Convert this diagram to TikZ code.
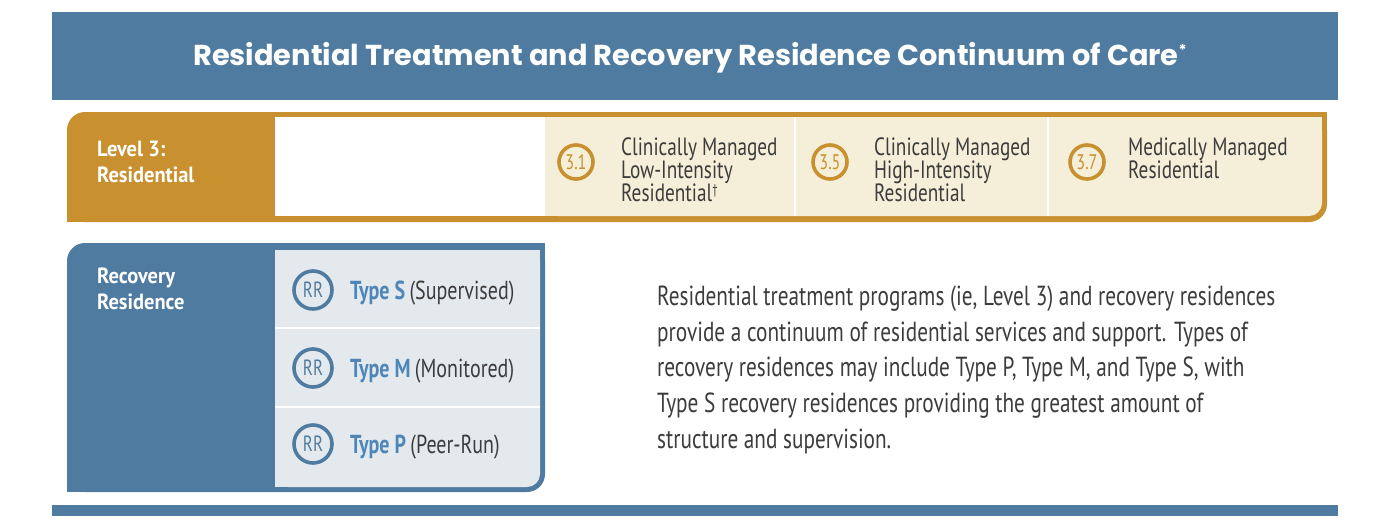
\documentclass[tikz,border=0pt]{standalone}
\usepackage{fontspec}
\setmainfont{PT Sans}[FakeStretch=0.77]
\newfontfamily\lblfont{PT Sans}[FakeStretch=0.93]
\newfontfamily\titlefont{Poppins}
\definecolor{hdrblue}{HTML}{4F7BA0}
\definecolor{gold}{HTML}{C8902F}
\definecolor{cream}{HTML}{F5EED8}
\definecolor{paleblue}{HTML}{E4E9EE}
\definecolor{txtgray}{HTML}{3C3C3C}
\definecolor{typeblue}{HTML}{4E86B8}
\lineskiplimit=-50pt
\tikzset{
  lbl/.style={anchor=base west, inner sep=0pt, text=white, font=\lblfont\fontsize{22}{26.5}\selectfont\bfseries, align=left},
  cell/.style={anchor=base west, inner sep=0pt, text=txtgray, font=\fontsize{25}{23}\selectfont, align=left},
  goldring/.style={circle, draw=gold, line width=3.6pt, minimum size=34pt, inner sep=0pt, text=gold, font=\fontsize{21}{21}\selectfont},
  bluering/.style={circle, draw=hdrblue, line width=3.6pt, minimum size=38pt, inner sep=0pt, text=hdrblue, font=\fontsize{22}{22}\selectfont},
  rrtext/.style={anchor=base west, inner sep=0pt, font=\fontsize{26}{26}\selectfont},
  sepline/.style={white, line width=2pt}
}
\begin{document}
\begin{tikzpicture}[x=1pt,y=-1pt]
\useasboundingbox (0,0) rectangle (1382,523);
\fill[white] (0,0) rectangle (1382,523);
% header
\fill[hdrblue] (52,12) rectangle (1338,100);
\node[text=white, inner sep=0pt, anchor=base, font=\titlefont\bfseries\fontsize{28.8}{28.8}\selectfont] (title) at (690,65)
  {Residential Treatment and Recovery Residence Continuum of Care\raisebox{10pt}{\fontsize{15}{15}\selectfont*}};
% Level 3 band
\fill[gold, rounded corners=18pt] (67,112) rectangle (1327,222);
\fill[gold] (1290,112) rectangle (1327,150);
\fill[gold] (67,190) rectangle (110,222);
\fill[white] (275,117) rectangle (545,216);
\fill[cream, rounded corners=13pt] (545,117) rectangle (1322,216);
\fill[cream] (545,117) rectangle (1300,216);
\fill[cream] (1280,117) rectangle (1322,160);
\draw[sepline] (795,117) -- (795,216);
\draw[sepline] (1048,117) -- (1048,216);
\node[lbl] (lvl) at (97,182.5) {Level 3:\\Residential};
\node[goldring] (c31) at (576,162) {3.1};
\node[cell] (t31) at (621,201) {Clinically Managed\\Low-Intensity\\Residential\raisebox{7pt}{\fontsize{14}{14}\selectfont\textdagger}};
\node[goldring] (c35) at (830,162) {3.5};
\node[cell] (t35) at (874,201) {Clinically Managed\\High-Intensity\\Residential};
\node[goldring] (c37) at (1087,162) {3.7};
\node[cell] (t37) at (1128,178) {Medically Managed\\Residential};
% Recovery residence box
\fill[hdrblue, rounded corners=18pt] (67,243) rectangle (545,492);
\fill[hdrblue] (500,243) rectangle (545,280);
\fill[hdrblue] (67,450) rectangle (110,492);
\fill[paleblue, rounded corners=13pt] (275,250) rectangle (540,487);
\fill[paleblue] (275,250) rectangle (520,487);
\fill[paleblue] (500,250) rectangle (540,460);
\draw[sepline] (275,328) -- (540,328);
\draw[sepline] (275,407) -- (540,407);
\node[lbl] (rr) at (97,309.5) {Recovery\\Residence};
\node[bluering] (r1) at (313,290) {RR};
\node[rrtext] (s1) at (350,299) {\textcolor{typeblue}{\bfseries Type S}\,\textcolor{txtgray}{(Supervised)}};
\node[bluering] (r2) at (313,368) {RR};
\node[rrtext] (s2) at (350,377) {\textcolor{typeblue}{\bfseries Type M}\,\textcolor{txtgray}{(Monitored)}};
\node[bluering] (r3) at (313,444) {RR};
\node[rrtext] (s3) at (350,453) {\textcolor{typeblue}{\bfseries Type P}\,\textcolor{txtgray}{(Peer-Run)}};
% paragraph
\node[anchor=base west, inner sep=0pt, align=left, text=txtgray, font=\fontsize{27.6}{35.8}\selectfont] (para) at (657,448.5)
  {Residential treatment programs (ie, Level 3) and recovery residences\\
   provide a continuum of residential services and support. Types of\\
   recovery residences may include Type P, Type M, and Type S, with\\
   Type S recovery residences providing the greatest amount of\\
   structure and supervision.};
% bottom bar
\fill[hdrblue] (52,505) rectangle (1338,516);
\end{tikzpicture}
\end{document}
